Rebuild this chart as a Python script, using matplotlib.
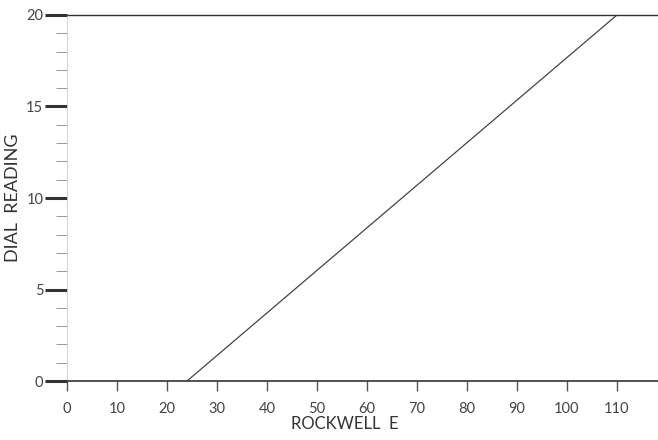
import matplotlib
matplotlib.use('Agg')
from matplotlib import pyplot as plt
from matplotlib.ticker import MultipleLocator

rockwell = [24, 110]
dial = [0, 20]
x_ticks = [0, 10, 20, 30, 40, 50, 60, 70, 80, 90, 100, 110]
y_ticks = [0, 5, 10, 15, 20]

plt.rcParams['font.family'] = ['Lato', 'DejaVu Sans']

fig = plt.figure(figsize=(6.58, 4.40), dpi=100)
ax = fig.add_axes([0.1018, 0.134, 0.8982, 0.832])

ax.plot(rockwell, dial, color='#444444', linewidth=0.9)

ax.set_xlim(0, 118.2)
ax.set_ylim(0, 20)

ax.set_xticks(x_ticks)
ax.set_yticks(y_ticks)
ax.yaxis.set_minor_locator(MultipleLocator(1))

ax.spines['right'].set_visible(False)
ax.spines['top'].set_color('#333333')
ax.spines['top'].set_linewidth(1.0)
ax.spines['bottom'].set_color('#333333')
ax.spines['bottom'].set_linewidth(1.2)
ax.spines['left'].set_color('#cccccc')
ax.spines['left'].set_linewidth(0.6)

ax.tick_params(axis='x', direction='out', length=7, width=1.0, color='#555555',
               labelsize=10.5, labelcolor='#444444', pad=8)
ax.tick_params(axis='y', which='major', direction='out', length=16, width=2.2,
               color='#333333', labelsize=10.5, labelcolor='#444444', pad=1)
ax.tick_params(axis='y', which='minor', direction='out', length=8, width=0.7,
               color='#999999')

ax.set_xlabel('ROCKWELL  E', fontsize=12, color='#333333')
ax.xaxis.set_label_coords(0.47, -0.095)
ax.set_ylabel('DIAL  READING', fontsize=13, color='#333333', labelpad=4)

fig.savefig('out.png', dpi=100)
